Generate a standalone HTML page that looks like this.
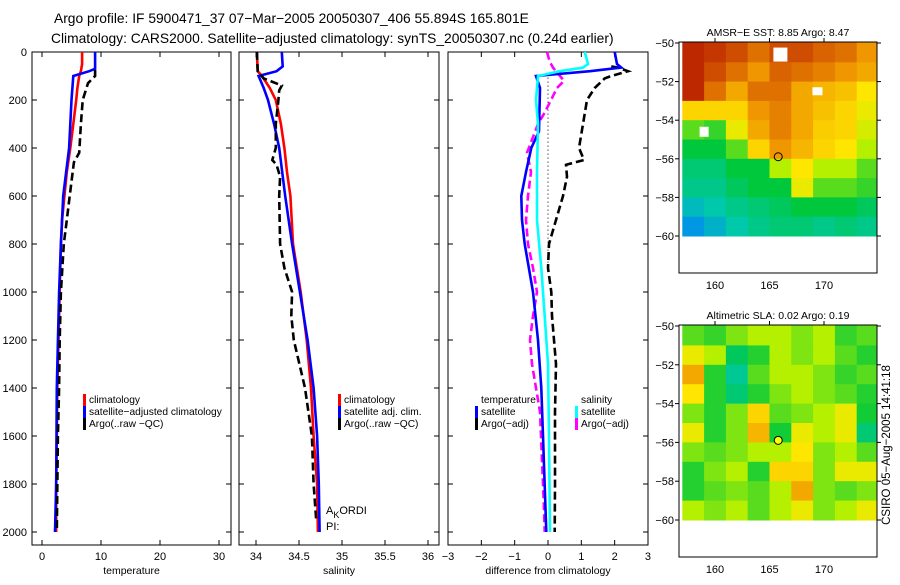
<!DOCTYPE html>
<html><head><meta charset="utf-8"><style>
body{margin:0;background:#fff;}
svg text{font-family:"Liberation Sans",sans-serif;fill:#000;}
</style></head><body>
<svg id="fig" width="900" height="580" xmlns="http://www.w3.org/2000/svg">
<text x="54" y="23" font-size="13.8">Argo profile: IF 5900471_37 07−Mar−2005 20050307_406 55.894S 165.801E</text>
<text x="51" y="43" font-size="13.8">Climatology: CARS2000. Satellite−adjusted climatology: synTS_20050307.nc (0.24d earlier)</text>
<g id="layer"></g>
<text transform="translate(890,445) rotate(-90)" text-anchor="middle" font-size="11.5">CSIRO 05−Aug−2005 14:41:18</text>
</svg>
<script>
// ---- data ----
const depthTicks=[0,200,400,600,800,1000,1200,1400,1600,1800,2000];
const tempTicks=[0,10,20,30];
const salTicks=[34,34.5,35,35.5,36];
const diffTicks=[-3,-2,-1,0,1,2,3];
const tClimD=[0,50,80,100,150,200,300,400,500,600,700,800,1000,1200,1400,1600,1800,2000];
const tClimV=[6.8,6.8,6.6,6.3,6.0,5.8,5.3,4.8,4.2,3.8,3.4,3.2,3.0,2.8,2.6,2.5,2.4,2.4];
const tSatD=[0,70,80,100,200,400,600,800,1000,1400,1800,2000];
const tSatV=[9.0,9.0,8.0,5.3,5.0,4.6,3.6,3.2,2.9,2.5,2.4,2.2];
const tArgD=[75,100,130,200,300,420,460,600,700,800,1000,1200,1400,1600,2000];
const tArgV=[9.0,9.0,7.8,6.9,6.6,6.3,5.4,4.7,4.2,3.7,3.2,3.0,2.9,2.7,2.5];
const sClimD=[0,80,100,150,200,300,400,500,600,800,1000,1200,1400,1600,1800,2000];
const sClimV=[34.01,34.02,34.07,34.16,34.23,34.29,34.33,34.36,34.40,34.43,34.52,34.59,34.64,34.67,34.71,34.72];
const sSatD=[0,60,80,100,150,200,300,400,600,800,1000,1200,1400,1600,1800,2000];
const sSatV=[34.30,34.31,34.24,34.03,34.09,34.14,34.21,34.27,34.34,34.42,34.51,34.60,34.67,34.71,34.73,34.74];
const sArgD=[0,80,110,140,160,200,300,400,450,470,520,600,800,900,1000,1100,1200,1400,1600,1800,1950];
const sArgV=[34.01,34.02,34.09,34.30,34.27,34.26,34.23,34.23,34.19,34.24,34.28,34.27,34.28,34.33,34.42,34.41,34.44,34.57,34.65,34.67,34.70];
const dTSatD=[0,50,65,80,100,150,330,400,500,600,700,800,1000,1200,1400,1600,2000];
const dTSatV=[2.0,2.07,2.2,1.26,-0.36,-0.24,-0.27,-0.5,-0.66,-0.8,-0.78,-0.7,-0.45,-0.3,-0.2,-0.15,-0.05];
const dSSatD=[0,50,65,80,100,200,300,500,700,900,1100,1300,1600,2000];
const dSSatV=[1.1,1.2,1.05,0.35,-0.3,-0.36,-0.3,-0.33,-0.33,-0.2,-0.1,0.0,0.03,0.06];
const dTArgD=[60,65,80,100,110,150,200,300,400,450,470,520,600,700,800,900,1000,1100,1200,1300,1500,1800,2000];
const dTArgV=[1.9,2.1,2.4,1.9,1.7,1.4,1.17,1.05,0.93,1.08,0.54,0.57,0.45,0.24,0.03,0.0,0.1,0.12,0.18,0.24,0.21,0.21,0.2];
const dSArgD=[0,40,65,100,120,150,200,250,300,420,500,600,700,800,900,1000,1100,1200,1300,1500,1700,1900,2000];
const dSArgV=[-0.03,0.05,0.15,0.36,0.48,0.27,0.09,-0.09,-0.3,-0.63,-0.51,-0.6,-0.66,-0.6,-0.45,-0.33,-0.45,-0.54,-0.48,-0.24,-0.18,-0.12,-0.1];
const mapLats=[-50,-52,-54,-56,-58,-60];
const mapLons=[160,165,170];
const sstGrid=[
[0.9,0.88,0.85,0.8,0.85,0.85,0.82,0.8,0.75],
[0.92,0.85,0.8,0.75,0.82,0.8,0.78,0.75,0.72],
[0.9,0.8,0.72,0.8,0.8,0.72,0.7,0.68,0.62],
[0.65,0.65,0.65,0.75,0.78,0.72,0.68,0.65,0.6],
[0.5,0.48,0.6,0.72,0.78,0.72,0.66,0.65,0.58],
[0.45,0.45,0.5,0.65,0.75,0.7,0.65,0.62,0.55],
[0.4,0.4,0.45,0.45,0.55,0.62,0.55,0.55,0.5],
[0.38,0.38,0.42,0.45,0.45,0.6,0.5,0.5,0.48],
[0.32,0.35,0.38,0.4,0.42,0.45,0.45,0.45,0.42],
[0.25,0.3,0.35,0.38,0.4,0.4,0.38,0.4,0.38]];
const slaGrid=[
[0.5,0.48,0.52,0.55,0.55,0.52,0.55,0.48,0.5],
[0.6,0.55,0.42,0.47,0.55,0.52,0.55,0.5,0.47],
[0.72,0.47,0.37,0.5,0.55,0.55,0.52,0.48,0.5],
[0.62,0.47,0.4,0.47,0.52,0.55,0.52,0.5,0.47],
[0.52,0.47,0.52,0.65,0.5,0.52,0.55,0.6,0.46],
[0.6,0.47,0.52,0.7,0.46,0.6,0.55,0.6,0.4],
[0.52,0.5,0.52,0.55,0.55,0.62,0.52,0.55,0.5],
[0.47,0.52,0.55,0.47,0.65,0.65,0.52,0.6,0.6],
[0.47,0.5,0.52,0.5,0.55,0.72,0.52,0.5,0.52],
[0.55,0.52,0.55,0.5,0.55,0.6,0.52,0.55,0.6]];
const profLat=-55.894, profLon=165.801;

// ---- drawing ----
const NS='http://www.w3.org/2000/svg';
const L=document.getElementById('layer');
function mk(t,a,p){const e=document.createElementNS(NS,t);for(const k in a)e.setAttribute(k,a[k]);(p||L).appendChild(e);return e;}
const yD=d=>52+d*0.24;
const panels=[
 {x0:32,x1:231,sx:v=>42+v*5.9,ticks:tempTicks,lab:'temperature',name:'temperature-panel'},
 {x0:239,x1:439,sx:v=>256+(v-34)*86,ticks:salTicks,lab:'salinity',name:'salinity-panel'},
 {x0:448,x1:648,sx:v=>548+v*33.33,ticks:diffTicks,lab:'difference from climatology',name:'difference-panel'}];
panels.forEach((p,i)=>{
 const g=mk('g',{});
 
 
 const r=mk('rect',{x:p.x0,y:52,width:p.x1-p.x0,height:493,fill:'none',stroke:'#000','stroke-width':1},g);
 
 
 depthTicks.forEach(d=>{
  mk('line',{x1:p.x0,x2:p.x0+5,y1:yD(d),y2:yD(d),stroke:'#000'},g);
  mk('line',{x1:p.x1,x2:p.x1-5,y1:yD(d),y2:yD(d),stroke:'#000'},g);
  if(i==0){const t=mk('text',{x:27,y:yD(d)+4,'font-size':11,'text-anchor':'end'},g);t.textContent=d;
   
   }
 });
 p.ticks.forEach(v=>{const x=p.sx(v);
  mk('line',{x1:x,x2:x,y1:545,y2:540,stroke:'#000'},g);
  mk('line',{x1:x,x2:x,y1:52,y2:57,stroke:'#000'},g);
  const t=mk('text',{x:x,y:560,'font-size':11,'text-anchor':'middle'},g);t.textContent=(v<0?'−'+(-v):v);
  
  });
 const xl=mk('text',{x:(p.x0+p.x1)/2,y:574,'font-size':10.5,'text-anchor':'middle'},g);xl.textContent=p.lab;
 
 
});
function line(p,D,V,col,dash,name){
 const pts=D.map((d,k)=>panels[p].sx(V[k]).toFixed(1)+','+yD(d).toFixed(1)).join(' ');
 const e=mk('polyline',{points:pts,fill:'none',stroke:col,'stroke-width':2.6,'stroke-dasharray':dash||'none'});
 
 
}
const z=mk('line',{x1:panels[2].sx(0),x2:panels[2].sx(0),y1:yD(90),y2:yD(900),stroke:'#000','stroke-width':1,'stroke-dasharray':'1,3'});


line(0,tClimD,tClimV,'#f00',null,'temperature-climatology-line');
line(0,tSatD,tSatV,'#00f',null,'temperature-satellite-line');
line(0,tArgD,tArgV,'#000','8,4','temperature-argo-line');
line(1,sClimD,sClimV,'#f00',null,'salinity-climatology-line');
line(1,sSatD,sSatV,'#00f',null,'salinity-satellite-line');
line(1,sArgD,sArgV,'#000','8,4','salinity-argo-line');
line(2,dTArgD,dTArgV,'#000','8,4','diff-temperature-argo-line');
line(2,dSArgD,dSArgV,'#f0f','8,4','diff-salinity-argo-line');
line(2,dTSatD,dTSatV,'#00f',null,'diff-temperature-satellite-line');
line(2,dSSatD,dSSatV,'#0ff',null,'diff-salinity-satellite-line');
function leg(x,y,col,txt){
 const g=mk('g',{});
 
 
 if(col) mk('rect',{x:x,y:y-9,width:3,height:12,fill:col},g);
 const t=mk('text',{x:x+6,y:y,'font-size':10.2},g);t.textContent=txt;
}
leg(83,403,'#f00','climatology');leg(83,415,'#00f','satellite−adjusted climatology');leg(83,427,'#000','Argo(..raw −QC)');
leg(338,403,'#f00','climatology');leg(338,415,'#00f','satellite adj. clim.');leg(338,427,'#000','Argo(..raw −QC)');
leg(475,403,null,'temperature');leg(475,415,'#00f','satellite');leg(475,427,'#000','Argo(−adj)');
leg(575,403,null,'salinity');leg(575,415,'#0ff','satellite');leg(575,427,'#f0f','Argo(−adj)');
const k1=mk('text',{x:326,y:514,'font-size':11});k1.innerHTML='A<tspan dy="4" font-size="9">K</tspan><tspan dy="-4">ORDI</tspan>';


const k2=mk('text',{x:326,y:530,'font-size':11});k2.textContent='PI:';


const stops=[[0.2,[0,128,255]],[0.35,[0,200,170]],[0.45,[0,200,60]],[0.55,[180,240,0]],[0.62,[255,230,0]],[0.75,[240,150,0]],[0.9,[190,40,0]]];
function cmap(v){if(v<=stops[0][0])return 'rgb('+stops[0][1]+')';
 for(let i=1;i<stops.length;i++){if(v<=stops[i][0]){const a=stops[i-1],b=stops[i],t=(v-a[0])/(b[0]-a[0]);
  return 'rgb('+a[1].map((c,k)=>Math.round(c+(b[1][k]-c)*t)).join(',')+')';}}
 return 'rgb('+stops[stops.length-1][1]+')';}
function map(top,bot,grid,title,name){
 const x0=679,x1=877,lat50=top+1,lat60=bot-37;
 const yL=la=>lat50+(-50-la)*(lat60-lat50)/10;
 const xL=lo=>715+(lo-160)*10.9;
 const g=mk('g',{});
 
 
 grid.forEach((row,r)=>row.forEach((v,c)=>{
  const xa=Math.max(x0,xL(157+c*2)),xb=Math.min(x1,xL(159+c*2));
  const cell=mk('rect',{x:xa,y:yL(-50-r)-(r==0?1:0),width:xb-xa+0.5,height:yL(-51-r)-yL(-50-r)+0.5+(r==0?1:0),fill:cmap(v)},g);
  
  
 }));
 mk('rect',{x:x0,y:top,width:x1-x0,height:bot-top,fill:'none',stroke:'#000'},g);
 mapLats.forEach(la=>{mk('line',{x1:x1,x2:x1+4,y1:yL(la),y2:yL(la),stroke:'#000'},g);
  mk('line',{x1:x0,x2:x0-4,y1:yL(la),y2:yL(la),stroke:'#000'},g);
  const t=mk('text',{x:x0-5,y:yL(la)+4,'font-size':11,'text-anchor':'end'},g);t.textContent='−'+(-la);
  
  });
 mapLons.forEach(lo=>{mk('line',{x1:xL(lo),x2:xL(lo),y1:top,y2:top-4,stroke:'#000'},g);
  const t=mk('text',{x:xL(lo),y:bot+16,'font-size':11,'text-anchor':'middle'},g);t.textContent=lo;
  
  });
 const tt=mk('text',{x:778,y:top-6,'font-size':10.5,'text-anchor':'middle'},g);tt.textContent=title;
 
 
 const c=mk('circle',{cx:xL(profLon),cy:yL(profLat),r:4,fill:'none',stroke:'#000','stroke-width':1},g);
 
 
 return {xL,yL,g};
}
const m1=map(42,273,sstGrid,'AMSR−E SST: 8.85 Argo: 8.47','sst-map');
[[166,-50.6,14,14],[169.4,-52.5,10,8],[159,-54.6,9,10]].forEach(p=>{
 const w=mk('rect',{x:m1.xL(p[0])-p[2]/2,y:m1.yL(p[1])-p[3]/2,width:p[2],height:p[3],fill:'#fff'},m1.g);
 
 
});
const m2=map(325,557,slaGrid,'Altimetric SLA: 0.02 Argo: 0.19','sla-map');
m2.g.querySelector('circle').setAttribute('fill','#ff0');
</script>
</body></html>
